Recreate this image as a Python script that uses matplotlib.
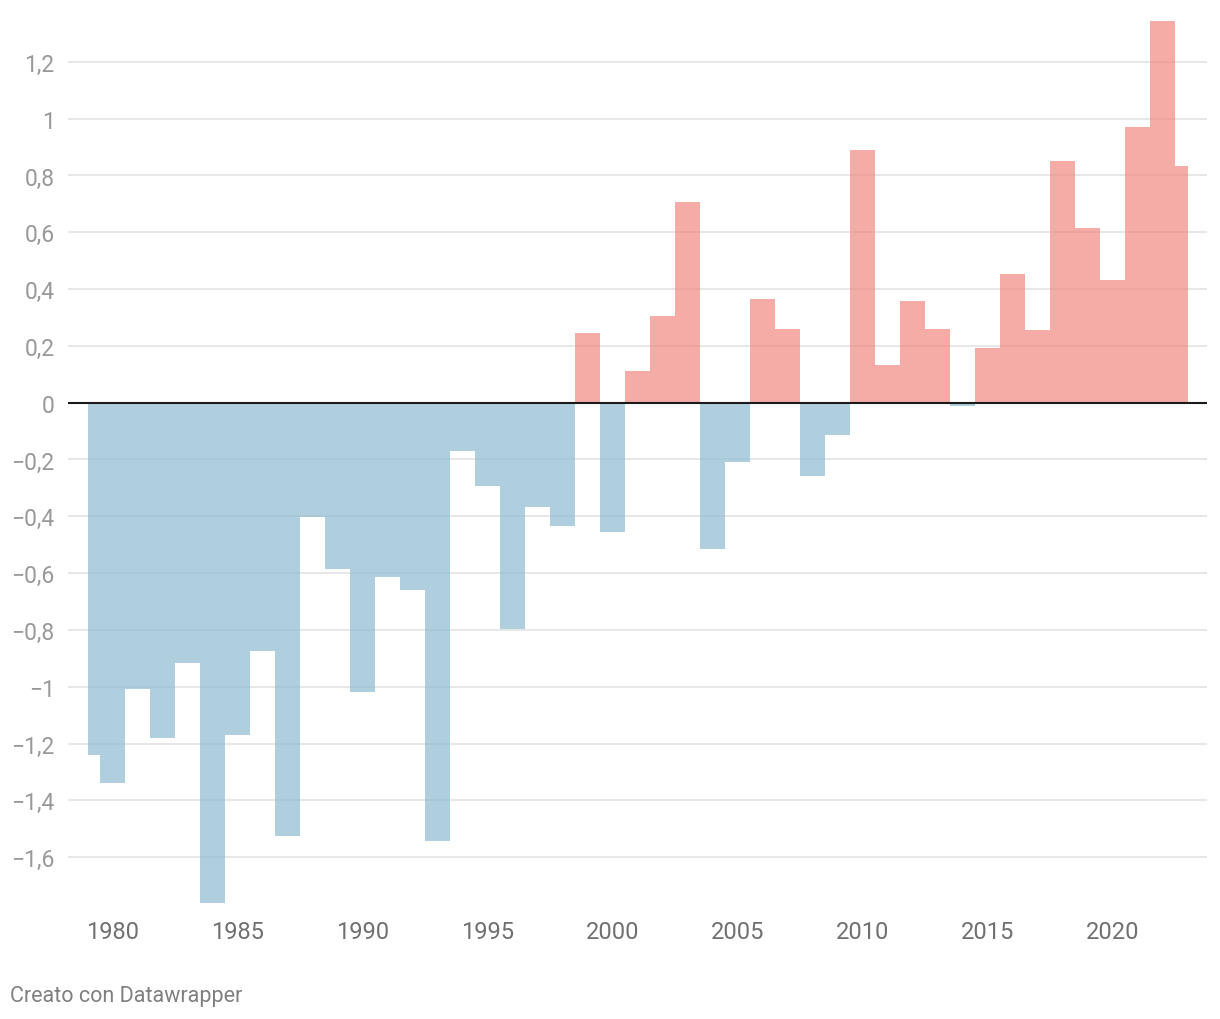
import matplotlib
matplotlib.use("Agg")
import matplotlib.pyplot as plt
import numpy as np
from matplotlib.ticker import FuncFormatter

plt.rcParams["font.family"] = ["Roboto", "DejaVu Sans"]

years = list(range(1979, 2024))
values = [
    -1.24, -1.339, -1.008, -1.181, -0.918, -1.76, -1.169, -0.875, -1.525, -0.402,
    -0.587, -1.018, -0.614, -0.658, -1.543, -0.17, -0.292, -0.797, -0.367, -0.433,
    0.244, -0.456, 0.11, 0.306, 0.707, -0.515, -0.21, 0.365, 0.258, -0.257,
    -0.114, 0.889, 0.133, 0.359, 0.258, -0.011, 0.191, 0.452, 0.256, 0.852,
    0.614, 0.433, 0.972, 1.344, 0.832,
]
y_ticks = [-1.6, -1.4, -1.2, -1.0, -0.8, -0.6, -0.4, -0.2, 0.0, 0.2, 0.4, 0.6, 0.8, 1.0, 1.2]
x_ticks = [1980, 1985, 1990, 1995, 2000, 2005, 2010, 2015, 2020]

BLUE = "#8ebad1"
RED = "#f28880"
W, H = 1220, 1020

fig = plt.figure(figsize=(W / 100, H / 100), dpi=100)
left, right, top, bottom = 68, 1207, 20, 906
ax = fig.add_axes([left / W, 1 - bottom / H, (right - left) / W, (bottom - top) / H])

px_per_unit = 284.0
zero_px = 403.7
ax.set_ylim((zero_px - bottom) / px_per_unit, (zero_px - top) / px_per_unit)
ax.set_xlim(1978.22, 2023.78)

# stepped area, split into warm (above zero) and cold (below zero) parts
x = np.array(years, dtype=float)
v = np.array(values)
ax.fill_between(x, 0, np.maximum(v, 0), step="mid", color=RED, alpha=0.7,
                linewidth=0, zorder=2)
ax.fill_between(x, 0, np.minimum(v, 0), step="mid", color=BLUE, alpha=0.7,
                linewidth=0, zorder=2)

ax.set_yticks(y_ticks)
ax.yaxis.set_major_formatter(FuncFormatter(
    lambda t, _: f"{t:g}".replace("-", "\u2212").replace(".", ",")))
ax.set_xticks(x_ticks)
ax.grid(axis="y", color="#e0e0e0", linewidth=1.1, zorder=1)
ax.set_axisbelow(True)
ax.axhline(0, color="#1a1a1a", linewidth=1.5, zorder=3)

for s in ax.spines.values():
    s.set_visible(False)
ax.tick_params(axis="y", length=0, pad=9.5, labelsize=16.5, labelcolor="#999999")
ax.tick_params(axis="x", length=0, pad=11, labelsize=17, labelcolor="#707070")

fig.text(10 / W, 1 - 997 / H, "Creato con Datawrapper", fontsize=15.5,
         color="#808080", ha="left", va="center")

fig.savefig("out.png", dpi=100, facecolor="white")
